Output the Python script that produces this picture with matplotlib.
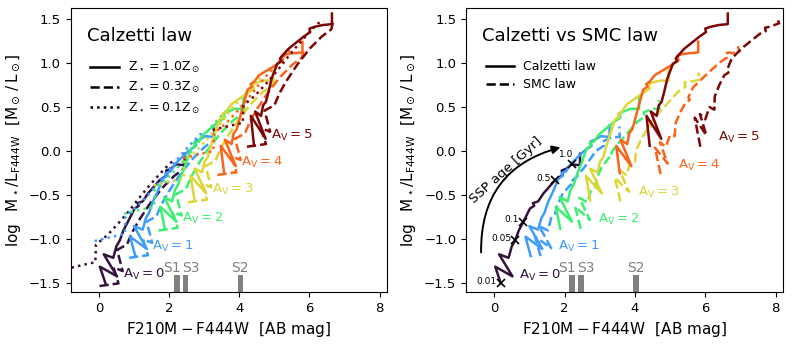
import matplotlib
matplotlib.use('Agg')
import matplotlib.pyplot as plt
from matplotlib.patches import FancyArrowPatch
from matplotlib.lines import Line2D

# ---------------- data ----------------
av_values = [0, 1, 2, 3, 4, 5]
av_colors = ['#35123f', '#3e9cfb', '#3def70', '#dcd638', '#f9641a', '#7d0707']

# Calzetti law, Z = 1.0 Zsun  (F210M-F444W colour, log M/L)
calz_z10_color = [
    [0.19, 0.03, 0.52, 0.14, 0.41, 0.50, 0.60, 0.70, 0.83, 1.02, 1.14, 1.10, 1.25, 1.40, 1.73, 1.95, 1.92, 2.05, 2.20, 2.44, 2.44],
    [1.04, 0.89, 1.37, 1.00, 1.25, 1.34, 1.43, 1.53, 1.65, 1.83, 1.95, 1.91, 2.04, 2.19, 2.55, 2.77, 2.74, 2.87, 3.04, 3.28, 3.28],
    [1.88, 1.75, 2.21, 1.86, 2.09, 2.17, 2.26, 2.36, 2.47, 2.63, 2.75, 2.71, 2.84, 2.98, 3.37, 3.59, 3.56, 3.69, 3.87, 4.12, 4.12],
    [2.73, 2.61, 3.06, 2.73, 2.94, 3.01, 3.10, 3.19, 3.28, 3.44, 3.56, 3.52, 3.63, 3.77, 4.20, 4.42, 4.39, 4.52, 4.71, 4.96, 4.96],
    [3.57, 3.47, 3.90, 3.59, 3.78, 3.84, 3.93, 4.02, 4.10, 4.24, 4.36, 4.32, 4.43, 4.56, 5.02, 5.24, 5.21, 5.34, 5.54, 5.80, 5.80],
    [4.42, 4.33, 4.75, 4.45, 4.62, 4.68, 4.76, 4.85, 4.92, 5.08, 5.20, 5.16, 5.22, 5.40, 5.84, 6.02, 6.00, 6.15, 6.38, 6.64, 6.64]]
calz_z10_logml = [
    [-1.50, -1.31, -1.42, -1.17, -1.21, -1.08, -1.01, -0.90, -0.80, -0.65, -0.62, -0.59, -0.57, -0.48, -0.33, -0.27, -0.22, -0.20, -0.15, -0.16, -0.03],
    [-1.19, -0.97, -1.11, -0.85, -0.89, -0.76, -0.70, -0.58, -0.48, -0.31, -0.28, -0.25, -0.23, -0.14, 0.00, 0.06, 0.11, 0.13, 0.17, 0.16, 0.29],
    [-0.88, -0.63, -0.80, -0.52, -0.57, -0.44, -0.38, -0.26, -0.15, 0.03, 0.06, 0.09, 0.11, 0.19, 0.32, 0.38, 0.43, 0.45, 0.48, 0.48, 0.61],
    [-0.56, -0.28, -0.48, -0.20, -0.24, -0.12, -0.07, 0.06, 0.17, 0.36, 0.39, 0.42, 0.45, 0.53, 0.65, 0.71, 0.76, 0.78, 0.80, 0.80, 0.92],
    [-0.25, 0.06, -0.17, 0.13, 0.08, 0.20, 0.25, 0.38, 0.50, 0.70, 0.73, 0.76, 0.79, 0.86, 0.97, 1.03, 1.08, 1.10, 1.11, 1.12, 1.24],
    [0.06, 0.40, 0.14, 0.45, 0.40, 0.52, 0.56, 0.70, 0.82, 0.99, 1.02, 1.05, 1.08, 1.16, 1.30, 1.35, 1.39, 1.41, 1.43, 1.44, 1.56]]

# Calzetti law, Z = 0.3 Zsun
calz_z03_color = [
    [0.02, 0.56, 0.42, 0.68, 0.52, 0.80, 0.95, 1.15, 1.45, 1.80, 2.15, 2.42, 2.48],
    [0.86, 1.40, 1.26, 1.52, 1.36, 1.64, 1.79, 1.99, 2.29, 2.64, 2.99, 3.26, 3.32],
    [1.70, 2.24, 2.10, 2.36, 2.20, 2.48, 2.63, 2.83, 3.13, 3.48, 3.83, 4.10, 4.16],
    [2.54, 3.08, 2.94, 3.20, 3.04, 3.32, 3.47, 3.67, 3.97, 4.32, 4.67, 4.94, 5.00],
    [3.38, 3.92, 3.78, 4.04, 3.88, 4.16, 4.31, 4.51, 4.81, 5.16, 5.51, 5.78, 5.84],
    [4.22, 4.76, 4.62, 4.88, 4.72, 5.00, 5.15, 5.35, 5.65, 6.00, 6.35, 6.62, 6.68]]
calz_z03_logml = [
    [-1.53, -1.50, -1.32, -1.36, -1.12, -1.06, -0.92, -0.78, -0.60, -0.42, -0.28, -0.20, -0.10],
    [-1.21, -1.18, -1.00, -1.04, -0.80, -0.74, -0.60, -0.46, -0.28, -0.10, 0.04, 0.12, 0.22],
    [-0.90, -0.87, -0.69, -0.73, -0.49, -0.43, -0.29, -0.15, 0.03, 0.21, 0.35, 0.43, 0.53],
    [-0.58, -0.55, -0.37, -0.41, -0.17, -0.11, 0.03, 0.17, 0.35, 0.53, 0.67, 0.75, 0.85],
    [-0.27, -0.24, -0.06, -0.10, 0.14, 0.20, 0.34, 0.48, 0.66, 0.84, 0.98, 1.06, 1.16],
    [0.05, 0.08, 0.26, 0.22, 0.46, 0.52, 0.66, 0.80, 0.98, 1.16, 1.30, 1.38, 1.48]]

# Calzetti law, Z = 0.1 Zsun
calz_z01_color = [
    [-0.96, -0.45, -0.10, -0.08, 0.25, 0.60, 0.90, 1.15, 1.40, 1.62, 1.85, 2.05, 2.20],
    [-0.12, 0.39, 0.74, 0.76, 1.09, 1.44, 1.74, 1.99, 2.24, 2.46, 2.69, 2.89, 3.04],
    [0.72, 1.23, 1.58, 1.60, 1.93, 2.28, 2.58, 2.83, 3.08, 3.30, 3.53, 3.73, 3.88],
    [1.56, 2.07, 2.42, 2.44, 2.77, 3.12, 3.42, 3.67, 3.92, 4.14, 4.37, 4.57, 4.72],
    [2.40, 2.91, 3.26, 3.28, 3.61, 3.96, 4.26, 4.51, 4.76, 4.98, 5.21, 5.41, 5.56],
    [3.24, 3.75, 4.10, 4.12, 4.45, 4.80, 5.10, 5.35, 5.60, 5.82, 6.05, 6.25, 6.40]]
calz_z01_logml = [
    [-1.34, -1.29, -1.26, -1.06, -0.95, -0.80, -0.66, -0.53, -0.41, -0.31, -0.21, -0.13, -0.10],
    [-1.02, -0.97, -0.94, -0.74, -0.63, -0.48, -0.34, -0.21, -0.09, 0.01, 0.11, 0.19, 0.22],
    [-0.71, -0.66, -0.63, -0.43, -0.32, -0.17, -0.03, 0.10, 0.22, 0.32, 0.42, 0.50, 0.53],
    [-0.39, -0.34, -0.31, -0.11, 0.00, 0.15, 0.29, 0.42, 0.54, 0.64, 0.74, 0.82, 0.85],
    [-0.08, -0.03, 0.00, 0.20, 0.31, 0.46, 0.60, 0.73, 0.85, 0.95, 1.05, 1.13, 1.16],
    [0.24, 0.29, 0.32, 0.52, 0.63, 0.78, 0.92, 1.05, 1.17, 1.27, 1.37, 1.45, 1.48]]

# SMC law, Z = 1.0 Zsun (Av = 1..5)
smc_av = [1, 2, 3, 4, 5]
smc_z10_color = [
    [1.32, 1.16, 1.62, 1.28, 1.53, 1.62, 1.73, 1.81, 1.94, 2.15, 2.27, 2.23, 2.35, 2.57, 2.89, 3.11, 3.08, 3.21, 3.34, 3.57, 3.56],
    [2.46, 2.30, 2.72, 2.42, 2.65, 2.75, 2.86, 2.93, 3.06, 3.25, 3.37, 3.33, 3.45, 3.69, 4.06, 4.28, 4.25, 4.38, 4.48, 4.70, 4.68],
    [3.59, 3.43, 3.83, 3.57, 3.76, 3.87, 4.00, 4.04, 4.17, 4.34, 4.46, 4.42, 4.55, 4.81, 5.22, 5.44, 5.41, 5.54, 5.62, 5.84, 5.81],
    [4.73, 4.57, 4.93, 4.71, 4.88, 5.00, 5.13, 5.16, 5.29, 5.44, 5.56, 5.52, 5.65, 5.93, 6.39, 6.61, 6.58, 6.70, 6.76, 6.97, 6.93],
    [5.86, 5.70, 6.03, 5.85, 6.00, 6.12, 6.26, 6.27, 6.40, 6.54, 6.66, 6.62, 6.75, 7.05, 7.55, 7.72, 7.70, 7.82, 7.90, 8.10, 8.05]]
smc_z10_logml = [
    [-1.19, -0.97, -1.10, -0.85, -0.90, -0.76, -0.71, -0.60, -0.49, -0.39, -0.36, -0.33, -0.29, -0.18, 0.00, 0.06, 0.11, 0.13, 0.16, 0.16, 0.28],
    [-0.88, -0.63, -0.78, -0.53, -0.58, -0.45, -0.42, -0.29, -0.18, -0.08, -0.05, -0.02, 0.05, 0.16, 0.33, 0.39, 0.44, 0.46, 0.48, 0.48, 0.58],
    [-0.57, -0.30, -0.46, -0.22, -0.27, -0.13, -0.12, 0.01, 0.13, 0.24, 0.27, 0.30, 0.38, 0.49, 0.67, 0.73, 0.78, 0.80, 0.79, 0.81, 0.89],
    [-0.26, 0.04, -0.14, 0.10, 0.05, 0.18, 0.17, 0.32, 0.44, 0.55, 0.58, 0.61, 0.72, 0.83, 1.00, 1.06, 1.11, 1.12, 1.11, 1.13, 1.19],
    [0.05, 0.38, 0.18, 0.42, 0.36, 0.50, 0.47, 0.62, 0.75, 0.86, 0.89, 0.92, 1.05, 1.17, 1.33, 1.36, 1.40, 1.41, 1.42, 1.45, 1.50]]

# Av label anchors
label_left_x = [0.70, 1.52, 2.36, 3.21, 4.06, 4.91]
label_left_y = [-1.40, -1.08, -0.76, -0.44, -0.13, 0.18]
label_right_x = [0.70, 1.81, 2.96, 4.09, 5.22, 6.35]
label_right_y = [-1.41, -1.08, -0.78, -0.47, -0.16, 0.15]

# SSP ages marked on the Av=0 track
age_labels = ['0.01', '0.05', '0.1', '0.5', '1.0']
age_color = [0.19, 0.60, 0.83, 1.73, 2.20]
age_logml = [-1.50, -1.01, -0.80, -0.33, -0.15]

# arrow for SSP age
arrow_color = [-0.37, 1.96]
arrow_logml = [-1.18, 0.05]

# observed sources
src_names = ['S1', 'S3', 'S2']
src_color = [2.22, 2.47, 4.03]
src_label_x = [2.07, 2.62, 4.03]

# ---------------- figure ----------------
fig = plt.figure(figsize=(7.92, 3.45), dpi=100)
axL = fig.add_axes([0.0893, 0.153, 0.399, 0.823])
axR = fig.add_axes([0.5884, 0.153, 0.3998, 0.823])

LW = 1.8
XLIM = (-0.8, 8.2)
YLIM = (-1.6, 1.62)


def style_axis(ax):
    ax.set_xlim(*XLIM)
    ax.set_ylim(*YLIM)
    ax.set_xticks([0, 2, 4, 6, 8])
    ax.set_yticks([-1.5, -1.0, -0.5, 0.0, 0.5, 1.0, 1.5])
    ax.tick_params(labelsize=9.5)
    ax.set_xlabel(r'$\mathrm{F210M - F444W}\ \ [\mathrm{AB\ mag}]$', fontsize=11)
    ax.set_ylabel(r'$\log\ \ \mathrm{M_\star/L_{F444W}}\ \ [\mathrm{M_\odot\,/\,L_\odot}]$',
                  fontsize=11)


def draw_sources(ax):
    ax.bar(src_color, [0.19] * len(src_color), bottom=YLIM[0], width=0.16,
           color='#808080', zorder=1)
    for name, xl in zip(src_names, src_label_x):
        ax.text(xl, -1.325, name, color='#808080', fontsize=10,
                ha='center', va='center')


# ---- left panel ----
for i, av in enumerate(av_values):
    c = av_colors[i]
    axL.plot(calz_z10_color[i], calz_z10_logml[i], '-', color=c, lw=LW, zorder=3)
    axL.plot(calz_z03_color[i], calz_z03_logml[i], '--', color=c, lw=LW, zorder=3)
    axL.plot(calz_z01_color[i], calz_z01_logml[i], ':', color=c, lw=LW, zorder=3)
    axL.text(label_left_x[i], label_left_y[i], r'$\mathrm{A_V} = %d$' % av, color=c,
             fontsize=9.5, ha='left', va='center')

draw_sources(axL)
style_axis(axL)
axL.text(0.053, 0.902, 'Calzetti law', transform=axL.transAxes, fontsize=13,
         ha='left', va='center')
hL = [Line2D([], [], color='k', lw=LW, ls='-'),
      Line2D([], [], color='k', lw=LW, ls='--'),
      Line2D([], [], color='k', lw=LW, ls=':')]
axL.legend(hL, [r'$\mathrm{Z_\star = 1.0Z_\odot}$', r'$\mathrm{Z_\star = 0.3Z_\odot}$',
                r'$\mathrm{Z_\star = 0.1Z_\odot}$'],
           loc='upper left', bbox_to_anchor=(0.062, 0.817), frameon=False,
           fontsize=9, handlelength=2.3, handletextpad=0.7, labelspacing=0.4,
           borderpad=0.0, borderaxespad=0.0)

# ---- right panel ----
for i, av in enumerate(av_values):
    c = av_colors[i]
    if av in smc_av:
        j = smc_av.index(av)
        axR.plot(smc_z10_color[j], smc_z10_logml[j], '--', color=c, lw=LW, zorder=3)
    axR.plot(calz_z10_color[i], calz_z10_logml[i], '-', color=c, lw=LW, zorder=3)
    axR.text(label_right_x[i], label_right_y[i], r'$\mathrm{A_V} = %d$' % av, color=c,
             fontsize=9.5, ha='left', va='center')

axR.plot(age_color, age_logml, 'x', color='k', ms=6, mew=1.2, zorder=5)
for lab, xa, ya in zip(age_labels, age_color, age_logml):
    if lab == '1.0':
        axR.annotate(lab, (xa, ya), xytext=(-4, 7), textcoords='offset points',
                     fontsize=6.5, ha='center', va='center')
    else:
        axR.annotate(lab, (xa, ya), xytext=(-3, 1.5), textcoords='offset points',
                     fontsize=6.5, ha='right', va='center')

arr = FancyArrowPatch((arrow_color[0], arrow_logml[0]), (arrow_color[1], arrow_logml[1]),
                      connectionstyle='arc3,rad=-0.4', arrowstyle='-|>',
                      mutation_scale=12, lw=1.4, color='k', zorder=5)
axR.add_patch(arr)
axR.text(0.33, -0.22, 'SSP age [Gyr]', fontsize=9.5, rotation=42,
         ha='center', va='center')

draw_sources(axR)
style_axis(axR)
axR.text(0.051, 0.902, 'Calzetti vs SMC law', transform=axR.transAxes, fontsize=13,
         ha='left', va='center')
hR = [Line2D([], [], color='k', lw=LW, ls='-'),
      Line2D([], [], color='k', lw=LW, ls='--')]
axR.legend(hR, ['Calzetti law', 'SMC law'],
           loc='upper left', bbox_to_anchor=(0.062, 0.817), frameon=False,
           fontsize=9, handlelength=2.3, handletextpad=0.7, labelspacing=0.4,
           borderpad=0.0, borderaxespad=0.0)

fig.savefig('out.png', dpi=100)
